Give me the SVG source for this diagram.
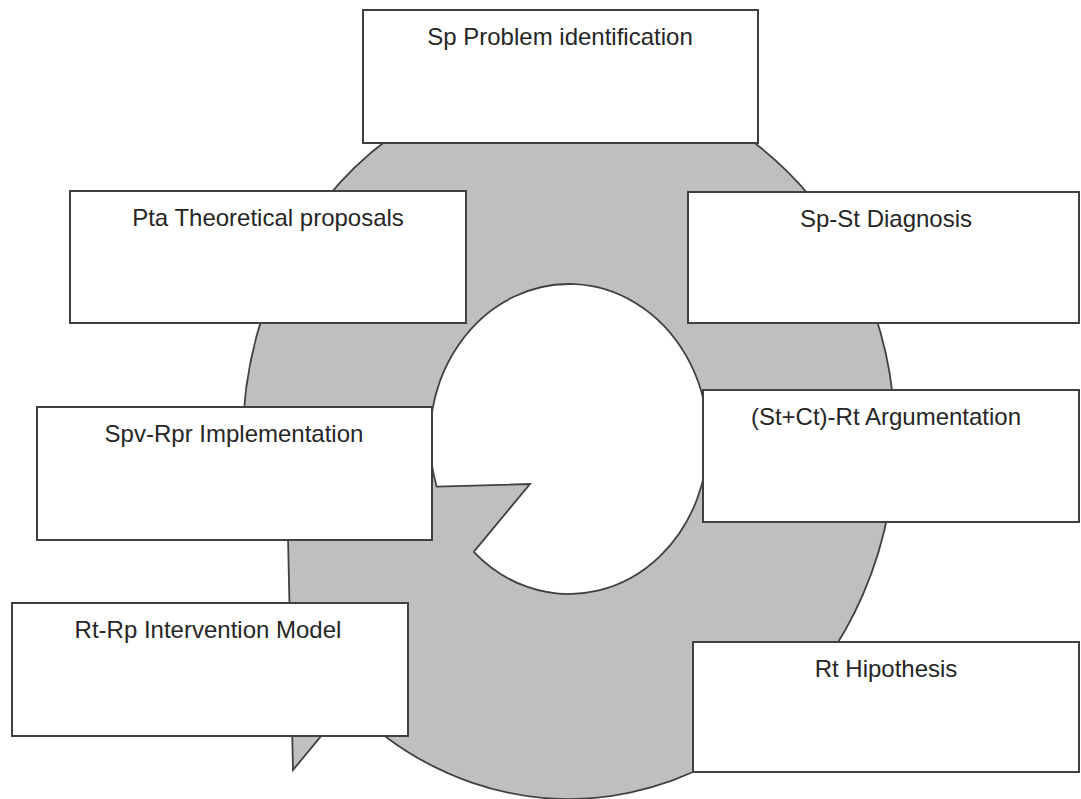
<svg xmlns="http://www.w3.org/2000/svg" width="1081" height="799" viewBox="0 0 1081 799">
  <style>
    .box { fill: #ffffff; stroke: #404040; stroke-width: 2; }
    .lbl { font-family: "Liberation Sans", Arial, sans-serif; font-size: 24px; fill: #262626; text-anchor: middle; }
    .arrow-fill { fill: #bfbfbf; stroke: none; }
    .arrow-line { fill: none; stroke: #404040; stroke-width: 1.8; stroke-linejoin: miter; }
  </style>
  <rect width="1081" height="799" fill="#ffffff"/>
  <g id="connectors">
    <path class="arrow-fill" d="M 348,703.6 A 326 360 0 1 0 246.2,489.5 L 287,489 L 293,770 L 530,484 L 436.7,486.7 A 139 155 0 1 1 473.7,551.9 Z"/>
    <path class="arrow-line" d="M 348,703.6 A 326 360 0 1 0 246.2,489.5 L 287,489 L 293,770 L 348,703.6 M 473.7,551.9 L 530,484 L 436.7,486.7 A 139 155 0 1 1 473.7,551.9"/>
  </g>
  <g id="node-problem">
    <rect class="box" x="363" y="10" width="395" height="133"/>
    <text class="lbl" x="560" y="45">Sp Problem identification</text>
  </g>
  <g id="node-theoretical">
    <rect class="box" x="70" y="191" width="396" height="132"/>
    <text class="lbl" x="268" y="226">Pta Theoretical proposals</text>
  </g>
  <g id="node-diagnosis">
    <rect class="box" x="688" y="192" width="391" height="131"/>
    <text class="lbl" x="886" y="227">Sp-St Diagnosis</text>
  </g>
  <g id="node-argumentation">
    <rect class="box" x="703" y="390" width="376" height="132"/>
    <text class="lbl" x="886" y="425">(St+Ct)-Rt Argumentation</text>
  </g>
  <g id="node-implementation">
    <rect class="box" x="37" y="407" width="395" height="133"/>
    <text class="lbl" x="234" y="442">Spv-Rpr Implementation</text>
  </g>
  <g id="node-intervention">
    <rect class="box" x="12" y="603" width="396" height="133"/>
    <text class="lbl" x="208" y="638">Rt-Rp Intervention Model</text>
  </g>
  <g id="node-hypothesis">
    <rect class="box" x="693" y="642" width="386" height="130"/>
    <text class="lbl" x="886" y="677">Rt Hipothesis</text>
  </g>
</svg>
